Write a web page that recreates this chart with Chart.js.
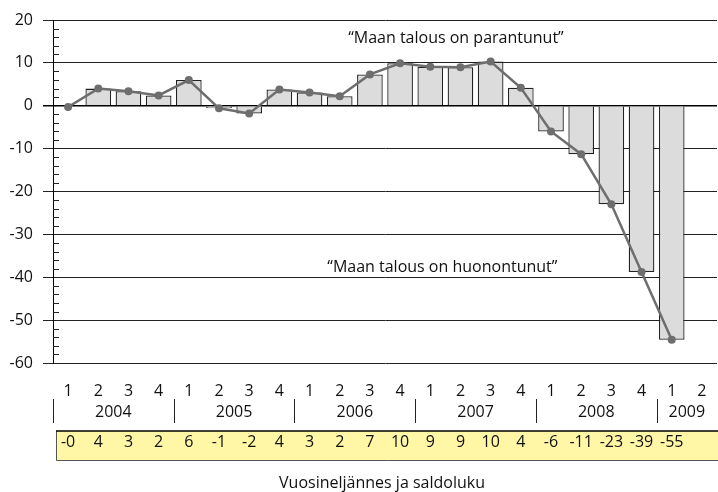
<!DOCTYPE html>
<html>
<head>
<meta charset="utf-8">
<script src="https://cdn.jsdelivr.net/npm/chart.js@4/dist/chart.umd.min.js"></script>
<style>
  html, body { margin: 0; padding: 0; background: #fff; overflow: hidden; }
  #wrap { width: 718px; height: 492px; overflow: hidden; }
  #chart { display: block; }
</style>
</head>
<body>
<div id="wrap"><canvas id="chart" width="721" height="492"></canvas></div>
<script>
const quarters = ["1", "2", "3", "4", "1", "2", "3", "4", "1", "2", "3", "4",
                  "1", "2", "3", "4", "1", "2", "3", "4", "1", "2"];
const years = ["2004", "2005", "2006", "2007", "2008", "2009"];
const balance = [-0.3, 4.0, 3.4, 2.4, 6.0, -0.6, -1.8, 3.8, 3.1, 2.2, 7.3, 9.9,
                 9.1, 9.0, 10.3, 4.2, -6.0, -11.3, -23.0, -38.8, -54.6, null];
const tableLabels = ["-0", "4", "3", "2", "6", "-1", "-2", "4", "3", "2", "7", "10",
                     "9", "9", "10", "4", "-6", "-11", "-23", "-39", "-55", ""];
const notes = [
  { text: "\u201cMaan talous on parantunut\u201d", x: 12.85, y: 15.8 },
  { text: "\u201cMaan talous on huonontunut\u201d", x: 12.4, y: -37.8 },
];

const textColor = "#111";
const font = '16px "Open Sans"';

const extras = {
  id: "extras",
  afterDraw(chart) {
    const { ctx, chartArea, scales: { x, y } } = chart;
    const step = x.getPixelForValue(1) - x.getPixelForValue(0);
    const base = chartArea.bottom;
    ctx.save();

    // minor ticks on the value axis
    ctx.strokeStyle = "#222";
    ctx.lineWidth = 1;
    for (let v = -58; v < 20; v += 2) {
      if (v % 10 === 0) continue;
      const py = Math.round(y.getPixelForValue(v)) + 0.5;
      ctx.beginPath();
      ctx.moveTo(chartArea.left, py);
      ctx.lineTo(chartArea.left + 6, py);
      ctx.stroke();
    }

    ctx.font = font;
    ctx.fillStyle = textColor;
    ctx.textAlign = "center";
    ctx.textBaseline = "middle";

    // year row
    years.forEach((yr, i) => {
      const first = i * 4;
      const last = Math.min(first + 3, quarters.length - 1);
      const left = Math.round(x.getPixelForValue(first) - step / 2) + 0.5;
      ctx.strokeStyle = "#222";
      ctx.beginPath();
      ctx.moveTo(left, base + 36);
      ctx.lineTo(left, base + 60);
      ctx.stroke();
      ctx.fillText(yr, (x.getPixelForValue(first) + x.getPixelForValue(last)) / 2, base + 49);
    });

    // yellow value table
    const tTop = base + 68, tBot = base + 97;
    const tLeft = chartArea.left + 3;
    ctx.fillStyle = "#fff6a6";
    ctx.fillRect(tLeft, tTop, chart.width - tLeft, tBot - tTop);
    ctx.strokeStyle = "#555";
    ctx.lineWidth = 1;
    ctx.beginPath();
    ctx.moveTo(tLeft + 0.5, tTop);
    ctx.lineTo(tLeft + 0.5, tBot + 0.5);
    ctx.lineTo(chart.width, tBot + 0.5);
    ctx.stroke();
    ctx.strokeStyle = "#000";
    ctx.lineWidth = 1.5;
    ctx.beginPath();
    ctx.moveTo(tLeft, tTop);
    ctx.lineTo(chart.width, tTop);
    ctx.stroke();
    ctx.fillStyle = textColor;
    tableLabels.forEach((t, i) => {
      ctx.fillText(t, x.getPixelForValue(i), tTop + 11);
    });

    // axis title
    ctx.fillText("Vuosineljännes ja saldoluku", 382, base + 120);

    // notes
    notes.forEach(n => {
      ctx.fillText(n.text, x.getPixelForValue(0) + n.x * step, y.getPixelForValue(n.y));
    });
    ctx.restore();
  }
};

new Chart(document.getElementById("chart"), {
  type: "bar",
  data: {
    labels: quarters,
    datasets: [
      {
        type: "line",
        data: balance,
        borderColor: "#6e6e6e",
        backgroundColor: "#6e6e6e",
        borderWidth: 2.5,
        pointRadius: 4,
        pointBorderWidth: 0,
        tension: 0,
        order: 0,
      },
      {
        data: balance,
        backgroundColor: "#dcdcdc",
        borderColor: "#222",
        borderWidth: 1.3,
        barPercentage: 0.85,
        categoryPercentage: 1,
        order: 1,
      },
    ],
  },
  options: {
    responsive: false,
    animation: false,
    layout: { padding: { top: 20, left: 0, right: 0, bottom: 0 } },
    plugins: { legend: { display: false }, tooltip: { enabled: false } },
    scales: {
      x: {
        afterFit(scale) { scale.height = 129; },
        grid: { display: false },
        border: { display: false },
        ticks: {
          color: textColor,
          font: { family: "Open Sans", size: 16 },
          padding: 11,
          maxRotation: 0,
          autoSkip: false,
        },
      },
      y: {
        min: -60,
        max: 20,
        afterFit(scale) { scale.width = 53; },
        border: { display: true, color: "#000", width: 1 },
        grid: {
          color: (c) => (c.tick && c.tick.value === 0 ? "#000" : "#222"),
          lineWidth: (c) => (c.tick && c.tick.value === 0 ? 1.5 : 1),
          tickLength: 10,
        },
        ticks: {
          stepSize: 10,
          color: textColor,
          font: { family: "Open Sans", size: 16 },
          padding: 10,
        },
      },
    },
  },
  plugins: [extras],
});
</script>
</body>
</html>
